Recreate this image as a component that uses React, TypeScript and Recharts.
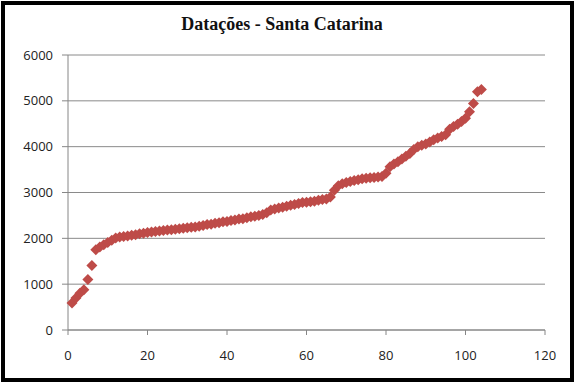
import { ScatterChart, Scatter, XAxis, YAxis, CartesianGrid } from "recharts";

// Ordered dates for Santa Catarina (years BP), index 1..104
const datacoes = [
  590, 700, 800, 880, 1100, 1410, 1750, 1810, 1860, 1910,
  1960, 2010, 2030, 2040, 2050, 2070, 2080, 2100, 2110, 2130,
  2140, 2150, 2160, 2170, 2180, 2190, 2200, 2210, 2220, 2230,
  2240, 2250, 2265, 2280, 2300, 2310, 2330, 2340, 2360, 2370,
  2390, 2400, 2420, 2430, 2450, 2470, 2480, 2500, 2520, 2560,
  2620, 2640, 2660, 2680, 2700, 2720, 2740, 2760, 2780, 2790,
  2800, 2810, 2830, 2850, 2860, 2900, 3050, 3150, 3190, 3220,
  3240, 3260, 3280, 3300, 3310, 3320, 3330, 3340, 3350, 3420,
  3560, 3620, 3670, 3730, 3790, 3850, 3940, 4000, 4030, 4060,
  4100, 4150, 4190, 4220, 4260, 4380, 4440, 4490, 4550, 4620,
  4760, 4940, 5200, 5250,
];

const xTicks = [0, 20, 40, 60, 80, 100, 120];
const yTicks = [0, 1000, 2000, 3000, 4000, 5000, 6000];

const points = datacoes.map((v, i) => ({ n: i + 1, ano: v }));

const axisColor = "#868686";
const tickStyle = { fill: "#222", fontSize: 13, fontFamily: "'Open Sans', sans-serif" };

function Diamond(props: any) {
  const { cx, cy } = props;
  if (cx == null || cy == null) return null;
  const r = 5.5;
  return (
    <path
      d={`M${cx},${cy - r}L${cx + r},${cy}L${cx},${cy + r}L${cx - r},${cy}Z`}
      fill="#BE4B48"
    />
  );
}

export default function App() {
  return (
    <div style={{ position: "absolute", left: 0, top: 0, width: 578, height: 386, background: "#fff" }}>
      <div
        style={{
          position: "absolute",
          left: 1,
          top: 1,
          width: 565,
          height: 373,
          border: "4px solid #000",
          background: "#fff",
        }}
      />
      <div
        style={{
          position: "absolute",
          left: 0,
          top: 14,
          width: 564,
          textAlign: "center",
          fontFamily: "'Liberation Serif', 'Times New Roman', serif",
          fontWeight: "bold",
          fontSize: 18,
          color: "#111",
        }}
      >
        Datações - Santa Catarina
      </div>
      <div style={{ position: "absolute", left: 0, top: 0 }}>
        <ScatterChart width={578} height={386} margin={{ top: 55, right: 33, bottom: 26, left: 0 }}>
          <CartesianGrid vertical={false} stroke="#8a8a8a" strokeWidth={1} />
          <XAxis
            type="number"
            dataKey="n"
            domain={[0, 120]}
            ticks={xTicks}
            height={30}
            tickSize={5}
            tickMargin={16}
            stroke={axisColor}
            tick={tickStyle}
          />
          <YAxis
            type="number"
            dataKey="ano"
            domain={[0, 6000]}
            ticks={yTicks}
            width={68}
            tickSize={6}
            tickMargin={9}
            stroke={axisColor}
            tick={tickStyle}
          />
          <Scatter data={points} shape={Diamond} isAnimationActive={false} />
        </ScatterChart>
      </div>
    </div>
  );
}
